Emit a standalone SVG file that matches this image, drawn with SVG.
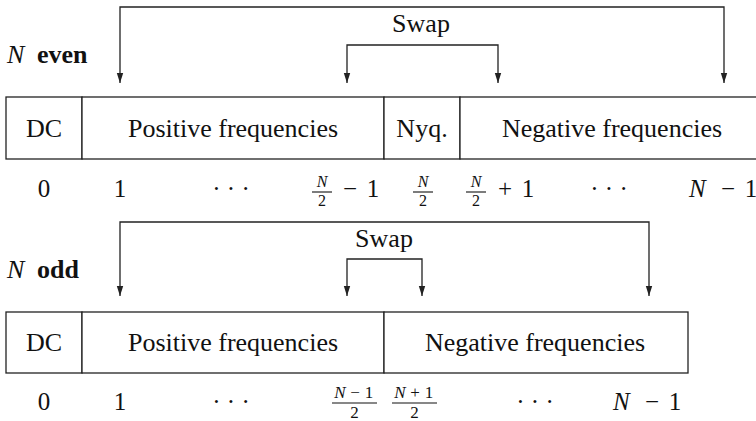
<svg xmlns="http://www.w3.org/2000/svg" width="756" height="421" viewBox="0 0 756 421" font-family="'Liberation Serif', 'Times New Roman', Times, serif">
  <style>
    text { font-family: 'Liberation Serif', 'Times New Roman', Times, serif; fill: #111; }
    .t { font-size: 26px; }
    .m { font-size: 25px; }
    .s { font-size: 16px; }
    .o { font-size: 17px; }
    .i { font-style: italic; }
    .b { font-weight: bold; }
    .c { text-anchor: middle; }
    .cell { fill: #fff; stroke: #222; stroke-width: 1.3; }
    .conn { fill: none; stroke: #222; stroke-width: 1.3; }
    .bar { stroke: #111; stroke-width: 1.1; }
  </style>
  <defs>
    <marker id="ah" markerUnits="userSpaceOnUse" markerWidth="11" markerHeight="8" refX="10" refY="4" orient="auto-start-reverse" viewBox="0 0 11 8">
      <path d="M0,0.8 L10,4 L0,7.2 Z" fill="#222"/>
    </marker>
  </defs>

  <rect width="756" height="421" fill="#fff"/>

  <!-- Even case -->
  <g id="label-even">
    <text class="t i" x="7" y="63">N</text>
    <text class="t b" x="37" y="63">even</text>
  </g>
  <g id="even-dc"><rect class="cell" x="6" y="97" width="76" height="62"/><text class="t c" x="44" y="137">DC</text></g>
  <g id="even-pos"><rect class="cell" x="82" y="97" width="302" height="62"/><text class="t c" x="233" y="137">Positive frequencies</text></g>
  <g id="even-nyq"><rect class="cell" x="384" y="97" width="76" height="62"/><text class="t c" x="422" y="137">Nyq.</text></g>
  <g id="even-neg"><rect class="cell" x="460" y="97" width="310" height="62"/><text class="t c" x="612" y="137">Negative frequencies</text></g>

  <g id="even-indices">
    <text class="m c" x="44" y="197">0</text>
    <text class="m c" x="120" y="197">1</text>
    <text class="m c" x="231" y="197">· · ·</text>
    <text class="s i c" x="322" y="187">N</text>
    <line class="bar" x1="312" y1="192" x2="332" y2="192"/>
    <text class="s c" x="322" y="206">2</text>
    <text class="m c" x="350" y="197">−</text>
    <text class="m c" x="373" y="197">1</text>
    <text class="s i c" x="423" y="187">N</text>
    <line class="bar" x1="413" y1="192" x2="433" y2="192"/>
    <text class="s c" x="423" y="206">2</text>
    <text class="s i c" x="476" y="187">N</text>
    <line class="bar" x1="466" y1="192" x2="486" y2="192"/>
    <text class="s c" x="476" y="206">2</text>
    <text class="m c" x="505" y="197">+</text>
    <text class="m c" x="528" y="197">1</text>
    <text class="m c" x="609" y="197">· · ·</text>
    <text class="m i" x="689" y="197">N</text>
    <text class="m c" x="728" y="197">−</text>
    <text class="m c" x="751" y="197">1</text>
  </g>

  <!-- Odd case -->
  <g id="label-odd">
    <text class="t i" x="7" y="278">N</text>
    <text class="t b" x="37" y="278">odd</text>
  </g>
  <g id="odd-dc"><rect class="cell" x="6" y="312" width="76" height="61"/><text class="t c" x="44" y="351">DC</text></g>
  <g id="odd-pos"><rect class="cell" x="82" y="312" width="302" height="61"/><text class="t c" x="233" y="351">Positive frequencies</text></g>
  <g id="odd-neg"><rect class="cell" x="384" y="312" width="304" height="61"/><text class="t c" x="535" y="351">Negative frequencies</text></g>

  <g id="odd-indices">
    <text class="m c" x="44" y="410">0</text>
    <text class="m c" x="120" y="410">1</text>
    <text class="m c" x="231" y="410">· · ·</text>
    <text class="o i c" x="340" y="398">N</text>
    <text class="o c" x="355" y="398">−</text>
    <text class="o c" x="369" y="398">1</text>
    <line class="bar" x1="332" y1="403" x2="377" y2="403"/>
    <text class="o c" x="354.5" y="418">2</text>
    <text class="o i c" x="400" y="398">N</text>
    <text class="o c" x="415" y="398">+</text>
    <text class="o c" x="429" y="398">1</text>
    <line class="bar" x1="392" y1="403" x2="437" y2="403"/>
    <text class="o c" x="414.5" y="418">2</text>
    <text class="m c" x="535" y="410">· · ·</text>
    <text class="m i" x="613" y="410">N</text>
    <text class="m c" x="652" y="410">−</text>
    <text class="m c" x="675" y="410">1</text>
  </g>

  <g id="connectors">
    <path class="conn" d="M120,83 V7 H724 V83" marker-start="url(#ah)" marker-end="url(#ah)"/>
    <path class="conn" d="M347,83 V45 H498 V83" marker-start="url(#ah)" marker-end="url(#ah)"/>
    <text class="t c" x="421" y="32">Swap</text>
    <path class="conn" d="M120,296 V222 H649 V296" marker-start="url(#ah)" marker-end="url(#ah)"/>
    <path class="conn" d="M347,296 V259 H422 V296" marker-start="url(#ah)" marker-end="url(#ah)"/>
    <text class="t c" x="384" y="247">Swap</text>
  </g>
</svg>
